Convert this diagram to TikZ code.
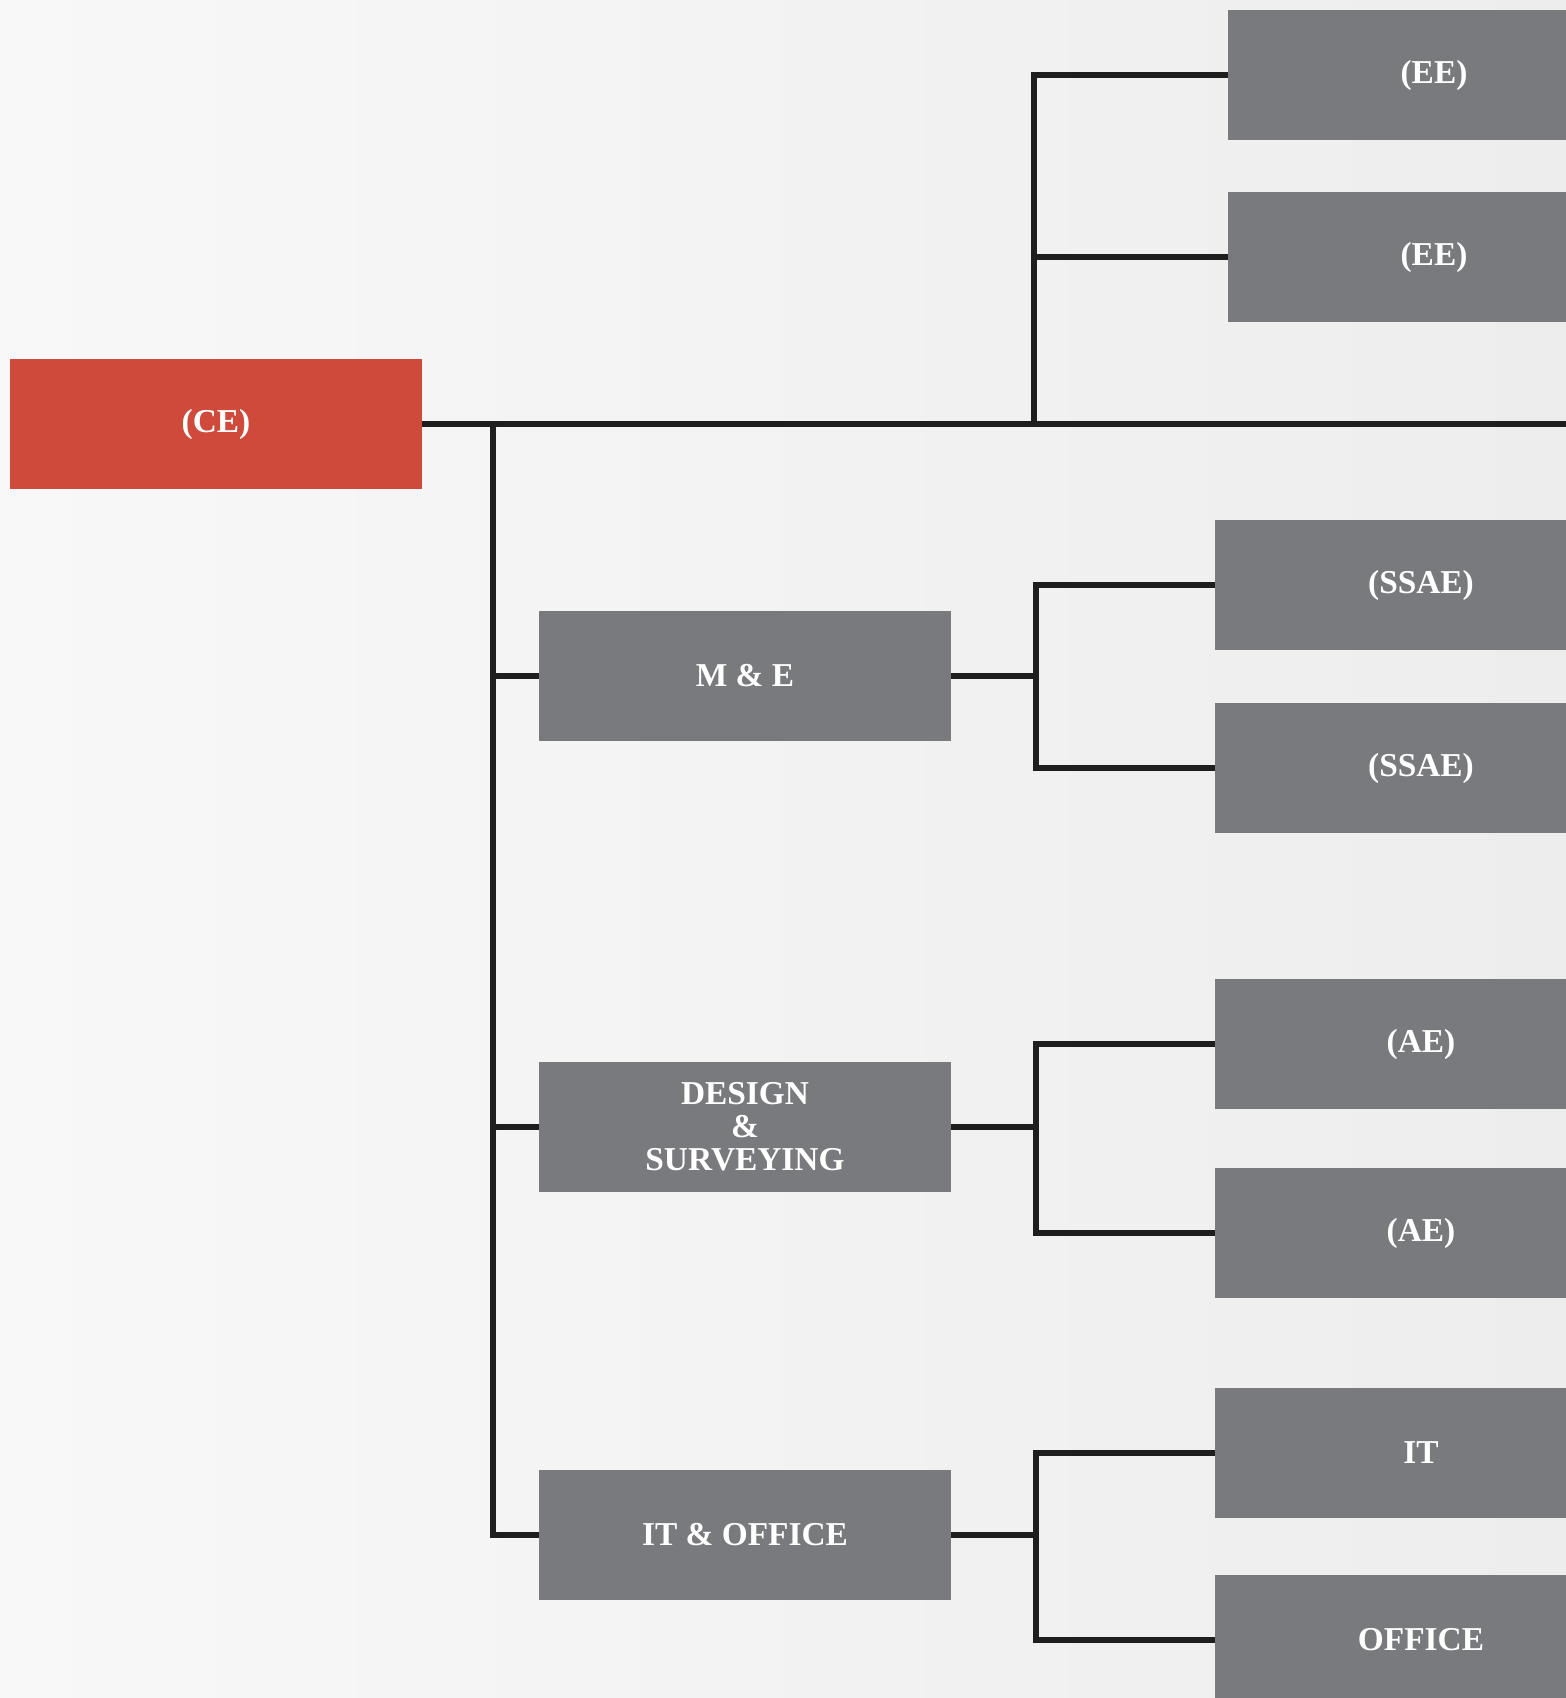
\documentclass[tikz,border=0pt]{standalone}
\usepackage{fontspec}
\setmainfont{Liberation Serif}
\usepackage{tikz}
\usetikzlibrary{positioning}

\definecolor{headred}{HTML}{CF4A3A}
\definecolor{unitgrey}{HTML}{797A7E}
\definecolor{linkblack}{HTML}{1E1E1E}
\definecolor{bgleft}{HTML}{F8F8F8}
\definecolor{bgright}{HTML}{EDEDED}

\begin{document}
\begin{tikzpicture}[
    x=0.02cm, y=-0.02cm,
    unit/.style={fill=unitgrey, text=white, minimum width=8.24cm, minimum height=2.6cm,
                 align=center, inner sep=0pt, font=\fontsize{19}{18.7}\selectfont\bfseries},
    head/.style={unit, fill=headred},
    link/.style={draw=linkblack, line width=3pt},
]
  % page and background
  \useasboundingbox (0,0) rectangle (1566,1698);
  \clip (0,0) rectangle (1566,1698);
  \fill[left color=bgleft, right color=bgright] (0,0) rectangle (1566,1698);

  % head
  \node[head] (ce) at (216, 424) {(CE)};

  % second level
  \node[unit] (me) at (745, 676) {M \& E};
  \node[unit] (design) at (745, 1127) {DESIGN\\\&\\SURVEYING};
  \node[unit] (itoffice) at (745, 1535) {IT \& OFFICE};

  % right column
  \node[unit] (eeA) at (1434, 75) {(EE)};
  \node[unit] (eeB) at (1434, 257) {(EE)};
  \node[unit] (ssaeA) at (1421, 585) {(SSAE)};
  \node[unit] (ssaeB) at (1421, 768) {(SSAE)};
  \node[unit] (aeA) at (1421, 1044) {(AE)};
  \node[unit] (aeB) at (1421, 1233) {(AE)};
  \node[unit] (it) at (1421, 1453) {IT};
  \node[unit] (office) at (1421, 1640) {OFFICE};

  % junctions
  \coordinate (mainend) at (1580, 424);
  \coordinate (trunk) at (493, 424);
  \coordinate (eejoint) at (1034, 424);
  \coordinate (mejoint) at (1036, 676);
  \coordinate (designjoint) at (1036, 1127);
  \coordinate (itjoint) at (1036, 1535);

  % connectors
  \draw[link] (ce.east) -- (mainend);
  \draw[link] (trunk) |- (me.west);
  \draw[link] (trunk) |- (design.west);
  \draw[link] (trunk) |- (itoffice.west);
  \draw[link] (eejoint) |- (eeA.west);
  \draw[link] (eejoint) |- (eeB.west);

  \draw[link] (me.east) -- (mejoint);
  \draw[link] (mejoint) |- (ssaeA.west);
  \draw[link] (mejoint) |- (ssaeB.west);

  \draw[link] (design.east) -- (designjoint);
  \draw[link] (designjoint) |- (aeA.west);
  \draw[link] (designjoint) |- (aeB.west);

  \draw[link] (itoffice.east) -- (itjoint);
  \draw[link] (itjoint) |- (it.west);
  \draw[link] (itjoint) |- (office.west);
\end{tikzpicture}
\end{document}
